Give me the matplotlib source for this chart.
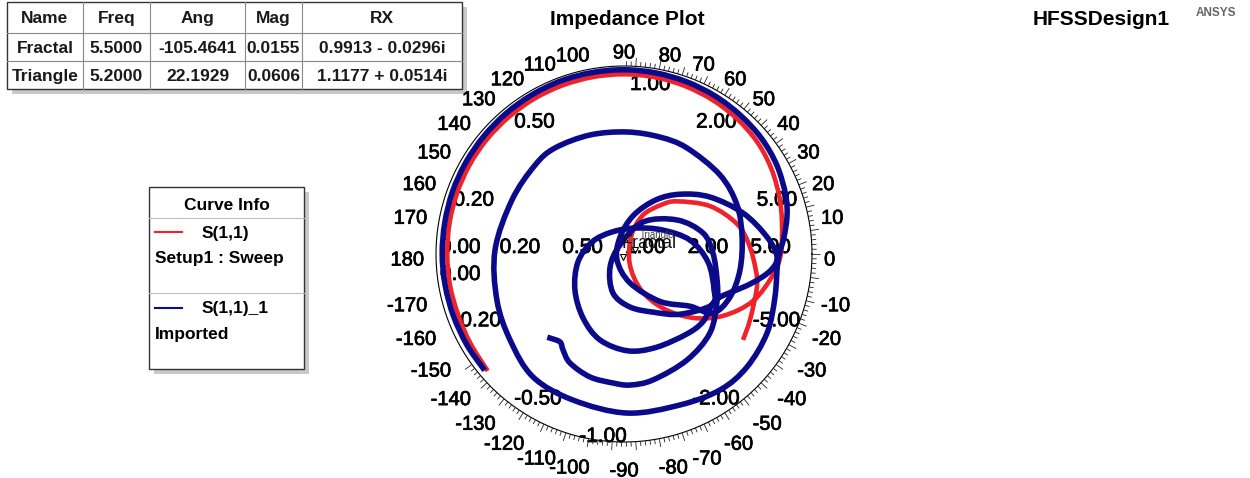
import numpy as np
import matplotlib
matplotlib.use("Agg")
import matplotlib.pyplot as plt
import matplotlib.patheffects as pe
from matplotlib.patches import Rectangle, PathPatch
from matplotlib.collections import LineCollection
from matplotlib.path import Path

plt.rcParams['font.family'] = ['Liberation Sans', 'DejaVu Sans']

# marker table
marker_names = ["Fractal", "Triangle"]
marker_freq = [5.5, 5.2]
marker_ang = [-105.4641, 22.1929]
marker_mag = [0.0155, 0.0606]
marker_rx = ["0.9913 - 0.0296i", "1.1177 + 0.0514i"]

# S(1,1) Setup1 : Sweep  (reflection coefficient)
fractal_re = [-0.725, -0.818, -0.883, -0.926, -0.940, -0.928, -0.888, -0.821, -0.728, -0.612,
              -0.477, -0.327, -0.166, 0.000, 0.166, 0.325, 0.473, 0.602, 0.709, 0.784,
              0.827, 0.840, 0.835, 0.793, 0.686, 0.530, 0.370, 0.210, 0.090, 0.030,
              0.040, 0.101, 0.200, 0.282, 0.457, 0.601, 0.665, 0.700, 0.707, 0.670, 0.633]
fractal_im = [-0.622, -0.473, -0.321, -0.163, 0.000, 0.164, 0.323, 0.474, 0.611, 0.729,
              0.826, 0.897, 0.941, 0.956, 0.940, 0.893, 0.818, 0.718, 0.595, 0.453,
              0.301, 0.170, 0.005, -0.110, -0.250, -0.328, -0.340, -0.290, -0.190, -0.050,
              0.100, 0.207, 0.262, 0.280, 0.255, 0.160, 0.050, -0.080, -0.176, -0.351, -0.457]

# S(1,1)_1 Imported
triangle_re = [-0.750, -0.836, -0.907, -0.951, -0.967, -0.953, -0.912, -0.842, -0.746, -0.627,
               -0.489, -0.335, -0.170, 0.000, 0.170, 0.333, 0.485, 0.619, 0.732, 0.814,
               0.860, 0.867, 0.850, 0.819, 0.803, 0.761, 0.654, 0.511, 0.298, 0.016,
               -0.271, -0.484, -0.606, -0.676, -0.686, -0.596, -0.473, -0.367, -0.181, 0.016,
               0.191, 0.335, 0.511, 0.601, 0.628, 0.617, 0.564, 0.473,
               0.351, 0.191, 0.032, -0.037, -0.021, 0.050, 0.170, 0.300, 0.457, 0.633,
               0.761, 0.814, 0.777, 0.670, 0.511, 0.468,
               0.420, 0.335, 0.170, 0.020, -0.128, -0.218, -0.261, -0.245, -0.170, -0.064,
               0.059, 0.202, 0.351, 0.447, 0.479, 0.468,
               0.300, 0.160, 0.032, -0.059, -0.074, -0.020, 0.101, 0.282, 0.420, 0.473,
               0.495, 0.495, 0.457, 0.335, 0.154, 0.032, -0.059, -0.181, -0.287, -0.324,
               -0.340, -0.394]
triangle_im = [-0.607, -0.483, -0.330, -0.168, 0.000, 0.168, 0.332, 0.486, 0.626, 0.748,
               0.847, 0.921, 0.965, 0.980, 0.963, 0.916, 0.840, 0.738, 0.614, 0.470,
               0.313, 0.200, 0.085, -0.032, -0.229, -0.420, -0.601, -0.723, -0.803, -0.846,
               -0.777, -0.654, -0.457, -0.245, 0.021, 0.287, 0.473, 0.564, 0.633, 0.649,
               0.622, 0.564, 0.420, 0.261, 0.090, -0.085, -0.229, -0.314,
               -0.278, -0.252, -0.154, -0.032, 0.090, 0.205, 0.288, 0.318, 0.303, 0.218,
               0.090, -0.016, -0.090, -0.160, -0.229, -0.271,
               -0.360, -0.425, -0.497, -0.515, -0.457, -0.340, -0.191, -0.043, 0.064, 0.117,
               0.138, 0.128, 0.074, -0.043, -0.191, -0.271,
               -0.320, -0.310, -0.282, -0.207, -0.069, 0.050, 0.170, 0.181, 0.112, 0.005,
               -0.138, -0.250, -0.420, -0.564, -0.670, -0.697, -0.686, -0.654, -0.580, -0.511,
               -0.468, -0.447]

smith_values = [0.2, 0.5, 1.0, 2.0, 5.0]
angle_labels = list(range(0, 190, 10)) + list(range(-10, -180, -10))

W, H = 1250, 478
CX, CY, R = 624, 254, 188
EXT = 1.35
BLUE = '#0a0a8a'
RED = '#f0222a'
heavy = [pe.withStroke(linewidth=0.5, foreground='black')]


def smooth_path(xs, ys):
    # draw a trace as a smooth bezier path through the read points
    p = np.column_stack([xs, ys])
    n = len(p)
    verts = [p[0]]
    codes = [Path.MOVETO]
    for i in range(n - 1):
        p0 = p[i - 1] if i > 0 else p[i]
        p3 = p[i + 2] if i + 2 < n else p[i + 1]
        verts += [p[i] + (p[i + 1] - p0) / 6, p[i + 1] - (p3 - p[i]) / 6, p[i + 1]]
        codes += [Path.CURVE4] * 3
    return Path(verts, codes)


fig = plt.figure(figsize=(W / 100, H / 100), dpi=100)

# overlay in pixel units for the table, legend and titles
ov = fig.add_axes([0, 0, 1, 1])
ov.set_xlim(0, W)
ov.set_ylim(H, 0)
ov.axis('off')

ov.text(627, 19, "Impedance Plot", ha='center', va='center', fontsize=15, weight='bold')
ov.text(1101, 19, "HFSSDesign1", ha='center', va='center', fontsize=15, weight='bold')
ov.text(1216, 13, "ANSYS", ha='center', va='center', fontsize=8.5, weight='bold', color='#666666')

# marker table
cols = [7, 83, 150, 245, 302, 462]
rows = [2, 33, 61, 89]
ov.add_patch(Rectangle((cols[0] + 5, rows[0] + 5), cols[-1] - cols[0], rows[-1] - rows[0],
                       fc='#c8c8c8', ec='none'))
ov.add_patch(Rectangle((cols[0], rows[0]), cols[-1] - cols[0], rows[-1] - rows[0],
                       fc='white', ec='#333333', lw=1))
for y in rows[1:-1]:
    ov.plot([cols[0], cols[-1]], [y, y], color='#888888', lw=0.8)
for x in cols[1:-1]:
    ov.plot([x, x], [rows[0], rows[-1]], color='#888888', lw=0.8)
header = ["Name", "Freq", "Ang", "Mag", "RX"]
table_rows = [header] + [[n, f"{f:.4f}", f"{a:.4f}", f"{m:.4f}", rx]
                         for n, f, a, m, rx in zip(marker_names, marker_freq, marker_ang,
                                                   marker_mag, marker_rx)]
for i, row in enumerate(table_rows):
    yc = (rows[i] + rows[i + 1]) / 2 + 1
    for j, cell in enumerate(row):
        xc = (cols[j] + cols[j + 1]) / 2
        ov.text(xc, yc, cell, ha='center', va='center', fontsize=12.5, weight='bold',
                color='#1a1a1a')

# curve info box
lx, ly, lw_, lh = 149, 187, 155, 182
ov.add_patch(Rectangle((lx + 5, ly + 5), lw_, lh, fc='#c8c8c8', ec='none'))
ov.add_patch(Rectangle((lx, ly), lw_, lh, fc='white', ec='#333333', lw=1))
ov.text(lx + lw_ / 2, 206, "Curve Info", ha='center', va='center', fontsize=12.5, weight='bold')
ov.plot([lx, lx + lw_], [218, 218], color='#c0c0c0', lw=0.8)
ov.plot([lx, lx + lw_], [293, 293], color='#c0c0c0', lw=0.8)
ov.plot([155, 182], [232, 232], color=RED, lw=1.5)
ov.text(202, 233, "S(1,1)", ha='left', va='center', fontsize=12.5, weight='bold')
ov.text(155, 259, "Setup1 : Sweep", ha='left', va='center', fontsize=12.5, weight='bold')
ov.plot([155, 182], [308, 308], color=BLUE, lw=1.5)
ov.text(202, 309, "S(1,1)_1", ha='left', va='center', fontsize=12.5, weight='bold')
ov.text(155, 335, "Imported", ha='left', va='center', fontsize=12.5, weight='bold')

# Smith chart axes
ax = fig.add_axes([(CX - EXT * R) / W, (H - CY - EXT * R) / H, 2 * EXT * R / W, 2 * EXT * R / H])
ax.set_xlim(-EXT, EXT)
ax.set_ylim(-EXT, EXT)
ax.axis('off')

t = np.linspace(0, 2 * np.pi, 721)
ax.plot(np.cos(t), np.sin(t), color='black', lw=0.8, zorder=2)
segs = []
for k in range(250):
    a = 2 * np.pi * k / 250
    deg = np.degrees(a)
    if 90 < deg < 215:
        continue
    L = 1.045 if k % 5 == 0 else 1.025
    segs.append([(np.cos(a), np.sin(a)), (L * np.cos(a), L * np.sin(a))])
ax.add_collection(LineCollection(segs, colors='#222222', linewidths=0.6, zorder=2))

# angle labels around the rim
for a in angle_labels:
    th = np.deg2rad(a)
    c, s = np.cos(th), np.sin(th)
    ha = 'center' if abs(c) < 0.02 else ('left' if c > 0 else 'right')
    dy = -1 if s > 0.02 else (17 if s < -0.02 else 6)
    ax.text(1.064 * c, 1.064 * s - dy / R, str(a), ha=ha, va='center', fontsize=14.5,
            zorder=1, path_effects=heavy)

# resistance labels along the real axis
ax.annotate("0.00", (-1, 0), xytext=(4, 1), textcoords='offset pixels', ha='left',
            va='baseline', fontsize=15, zorder=1, path_effects=heavy)
ax.annotate("0.00", (-1, 0), xytext=(4, -26), textcoords='offset pixels', ha='left',
            va='baseline', fontsize=15, zorder=1, path_effects=heavy)
for v in smith_values:
    g = (v - 1) / (v + 1)
    ax.annotate(f"{v:.2f}", (g, 0), xytext=(1, 1), textcoords='offset pixels', ha='left',
                va='baseline', fontsize=15, zorder=1, path_effects=heavy)

# reactance labels near the rim
for v in smith_values:
    th = np.pi - 2 * np.arctan(v)
    c, s = np.cos(th), np.sin(th)
    left = th >= np.pi / 2 - 1e-9
    dx = 6 if abs(c) < 1e-6 else (3 if left else 0)
    ax.annotate(f"{v:.2f}", (c, s), xytext=(dx, -9), textcoords='offset pixels',
                ha='left' if left else 'right', va='top', fontsize=15, zorder=1,
                path_effects=heavy)
    left_n = th > np.pi / 2 + 1e-9
    ax.annotate(f"-{v:.2f}", (c, -s), xytext=(3, 0), textcoords='offset pixels',
                ha='left' if left_n else 'right', va='baseline', fontsize=15, zorder=1,
                path_effects=heavy)

# traces
ax.add_patch(PathPatch(smooth_path(fractal_re, fractal_im), fc='none', ec=RED, lw=3.3,
                       joinstyle='round', capstyle='butt', zorder=3))
ax.add_patch(PathPatch(smooth_path(triangle_re, triangle_im), fc='none', ec=BLUE, lw=4.0,
                       joinstyle='round', capstyle='projecting', zorder=4))

# markers
mre = [m * np.cos(np.deg2rad(a)) for m, a in zip(marker_mag, marker_ang)]
mim = [m * np.sin(np.deg2rad(a)) for m, a in zip(marker_mag, marker_ang)]
ax.plot(mre, mim, 'v', ms=5, mfc='none', mec='black', mew=0.8, zorder=6)
ax.annotate("Fractal", (mre[0], mim[0]), xytext=(-2, 9), textcoords='offset pixels',
            ha='left', va='baseline', fontsize=13, color='#111111', zorder=5)
ax.annotate("Triangle", (mre[1], mim[1]), xytext=(5, 12), textcoords='offset pixels',
            ha='left', va='baseline', fontsize=7, color='#444444', zorder=5)

fig.savefig("out.png", dpi=100)
